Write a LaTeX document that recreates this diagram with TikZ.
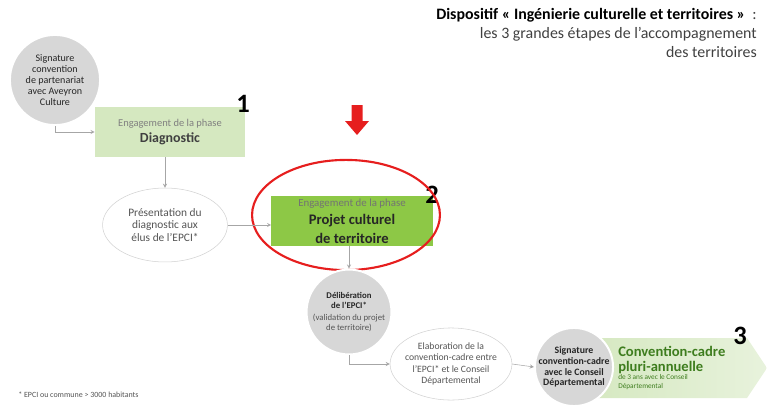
\documentclass[tikz,border=0pt]{standalone}
\usepackage{fontspec}
\setmainfont{Carlito}
\usetikzlibrary{shapes.geometric}

\definecolor{lightgreen}{RGB}{213,232,192}
\definecolor{midgreen}{RGB}{141,200,70}
\definecolor{circlegray}{RGB}{215,215,215}
\definecolor{textgray}{RGB}{85,85,85}
\definecolor{darkgreen}{RGB}{62,125,30}
\definecolor{alertred}{RGB}{230,30,30}

\tikzset{
  stepcircle/.style={circle, fill=circlegray, draw=white, line width=1.5pt, inner sep=0pt,
    align=center, text=black!85, font=\fontsize{7.6}{8.4}\selectfont},
  stepellipse/.style={ellipse, draw=gray!35, fill=white, thin, inner sep=0pt,
    align=center, text=textgray, font=\fontsize{7.3}{8.6}\selectfont},
  phasebox/.style={rectangle, align=center, inner sep=2pt},
  link/.style={draw=gray!70, thin, -stealth},
  stepnum/.style={font=\fontsize{20}{20}\selectfont\bfseries, text=black}
}

\begin{document}
\begin{tikzpicture}[x=0.0265cm, y=-0.0265cm]
\useasboundingbox (0,0) rectangle (767,406);

% title
\node[anchor=north east, align=right, inner sep=0pt, text=black!75,
  font=\fontsize{12}{14.5}\selectfont] (title) at (757,8)
  {\textcolor{black}{\textbf{Dispositif « Ingénierie culturelle et territoires »}} \ :\\
   les 3 grandes étapes de l'accompagnement\\des territoires};

% phase 1
\node[stepcircle, minimum size=2.39cm] (sig) at (55,80)
  {Signature\\convention\\de partenariat\\avec Aveyron\\Culture};
\node[phasebox, fill=lightgreen, minimum width=3.98cm, minimum height=1.33cm] (diag) at (170,132)
  {{\fontsize{7.9}{10}\selectfont\color{gray}Engagement de la phase}\\
   {\fontsize{10.5}{12}\selectfont\bfseries\color{black!75}Diagnostic}};
\node[stepnum] (one) at (243,104) {1};
\node[stepellipse, font=\fontsize{8.6}{9.6}\selectfont, inner xsep=-3pt,
  minimum width=3.31cm, minimum height=1.96cm] (pres) at (165,225)
  {Présentation du\\diagnostic aux\\élus de l'EPCI*};

% phase 2
\node[phasebox, fill=midgreen, minimum width=4.27cm, minimum height=1.31cm] (proj) at (352,221)
  {{\fontsize{8.2}{9}\selectfont\color{black!55}Engagement de la phase}\\[2pt]
   {\fontsize{11}{14}\selectfont\bfseries\color{black!85}Projet culturel}\\[2pt]
   {\fontsize{11}{12}\selectfont\bfseries\color{black!85}de territoire}};
\node[stepnum] (two) at (432,195) {2};
\node[ellipse, draw=alertred, line width=1.6pt, minimum width=4.98cm, minimum height=2.92cm] (focus) at (346,215) {};
\fill[alertred] (351.5,105) -- (362.5,105) -- (362.5,121) -- (369,121) -- (357,135)
  -- (345,121) -- (351.5,121) -- cycle;

\node[stepcircle, minimum size=2.25cm, font=\fontsize{6.6}{7.6}\selectfont] (delib) at (349,312)
  {\textbf{Délibération}\\\textbf{de l'EPCI*}\\[2pt]
   {\color{textgray}(validation du projet}\\{\color{textgray}de territoire)}};
\node[stepellipse, inner xsep=-8pt, inner ysep=1pt, minimum width=3.23cm, minimum height=1.91cm] (elab) at (451,364)
  {Elaboration de la\\convention-cadre entre\\l'EPCI* et le Conseil\\Départemental};

% phase 3
\shade[left color=lightgreen, right color=lightgreen!55] (585,338) -- (747,338) -- (767,368) -- (747,398) -- (585,398) -- cycle;
\node[stepcircle, minimum size=2.07cm, inner sep=-6pt, font=\fontsize{7.4}{8.2}\selectfont\bfseries] (sigcd) at (574,367)
  {Signature\\convention-cadre\\avec le Conseil\\Départemental};
\node[anchor=west, align=left, inner sep=0pt, text=darkgreen,
  font=\fontsize{5.5}{6.5}\selectfont] (conv) at (618,368)
  {{\fontsize{11}{12}\selectfont\bfseries Convention-cadre}\\[2pt]
   {\fontsize{11}{12}\selectfont\bfseries pluri-annuelle}\\
   de 3 ans avec le Conseil\\
   Départemental};
\node[stepnum] (three) at (740,336) {3};

% footnote
\node[anchor=west, inner sep=0pt, text=textgray, font=\fontsize{6}{7}\selectfont] (note) at (18,395)
  {* EPCI ou commune > 3000 habitants};

% connectors
\draw[link] (sig.south) |- (diag.west);
\draw[link] (pres.north |- diag.south) -- (pres.north);
\draw[link] (pres.east) -- (pres.east -| proj.west);
\draw[link] (delib.north |- proj.south) -- (delib.north);
\draw[link] (delib.south) |- (elab.west);
\draw[link] (elab.east) -- (sigcd.west);
\end{tikzpicture}
\end{document}
